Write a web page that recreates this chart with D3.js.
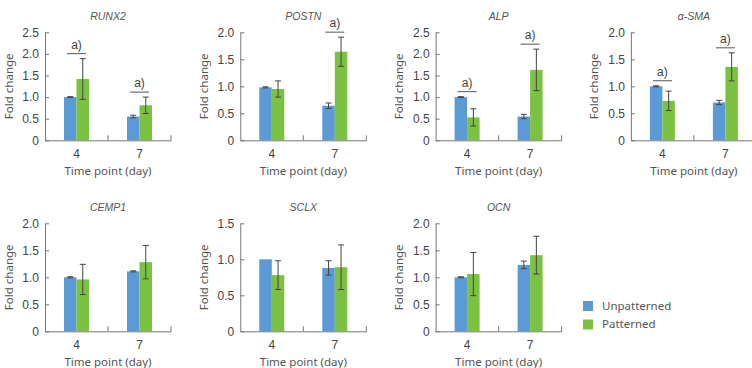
<!DOCTYPE html>
<html lang="en">
<head>
<meta charset="UTF-8">
<title>Fold change by time point</title>
<style>
  body { margin: 0; background: #fff; }
  svg { display: block; }
  .tick text { font-family: "Liberation Sans", Arial, sans-serif; font-size: 12px; fill: #444; }
  .label { font-family: "Noto Sans", sans-serif; font-size: 11.5px; fill: #555; }
  .gene { font-family: "Liberation Sans", Arial, sans-serif; font-size: 10.5px; font-style: italic; fill: #555; }
  .sig { font-family: "Liberation Sans", Arial, sans-serif; font-size: 12px; fill: #444; }
</style>
<script src="https://d3js.org/d3.v7.min.js"></script>
</head>
<body>
<div id="chart"></div>
<script>
const genes = ["RUNX2", "POSTN", "ALP", "\u03b1-SMA", "CEMP1", "SCLX", "OCN"];
const timePoints = ["4", "7"];
const yMax = [2.5, 2.0, 2.5, 2.0, 2.0, 1.5, 2.0];

// values per gene: [day 4, day 7]
const unpatterned    = [[1.0, 0.55], [0.98, 0.64], [1.0, 0.55], [1.0, 0.70], [1.0, 1.11], [1.0, 0.88], [1.0, 1.23]];
const unpatternedErr = [[0.01, 0.03], [0.01, 0.05], [0.01, 0.05], [0.01, 0.04], [0.01, 0.01], [0, 0.10], [0.01, 0.07]];
const patterned      = [[1.42, 0.81], [0.95, 1.64], [0.53, 1.63], [0.73, 1.36], [0.96, 1.28], [0.78, 0.89], [1.06, 1.41]];
const patternedErr   = [[0.47, 0.19], [0.15, 0.27], [0.20, 0.48], [0.18, 0.26], [0.28, 0.31], [0.20, 0.31], [0.40, 0.35]];
const significant    = [[true, true], [false, true], [true, true], [true, true], [false, false], [false, false], [false, false]];

const groups = ["Unpatterned", "Patterned"];
const values = [unpatterned, patterned];
const errors = [unpatternedErr, patternedErr];
const colors = d3.scaleOrdinal().domain(groups).range(["#5b9bd5", "#7cc242"]);

const width = 752, height = 368;
const plotW = 126, plotH = 108;
const axisColor = "#777";

const svg = d3.select("#chart").append("svg")
    .attr("width", width)
    .attr("height", height);

const x = d3.scaleBand().domain(timePoints).range([0, plotW]);
const xInner = d3.scaleBand().domain(groups).range([-12.5, 12.5]);

genes.forEach((gene, i) => {
    const col = i % 4, row = Math.floor(i / 4);
    const g = svg.append("g")
        .attr("transform", `translate(${45 + col * 195.3},${32.3 + row * 191})`);

    const y = d3.scaleLinear().domain([0, yMax[i]]).range([plotH, 0]);

    // bars + error bars
    timePoints.forEach((tp, j) => {
        const cx = x(tp) + x.bandwidth() / 2;
        groups.forEach((grp, k) => {
            const v = values[k][i][j], e = errors[k][i][j];
            const bx = cx + xInner(grp);
            g.append("rect")
                .attr("x", bx)
                .attr("y", y(v))
                .attr("width", xInner.bandwidth())
                .attr("height", plotH - y(v))
                .attr("fill", colors(grp));
            if (e > 0) {
                const mx = bx + xInner.bandwidth() / 2;
                g.append("line")
                    .attr("x1", mx).attr("x2", mx)
                    .attr("y1", y(v + e)).attr("y2", y(v - e))
                    .attr("stroke", "#444");
                [v + e, v - e].forEach(c => {
                    g.append("line")
                        .attr("x1", mx - 3).attr("x2", mx + 3)
                        .attr("y1", y(c)).attr("y2", y(c))
                        .attr("stroke", "#444");
                });
            }
        });

        if (significant[i][j]) {
            const top = d3.max(groups, (grp, k) => values[k][i][j] + errors[k][i][j]);
            const ly = y(top) - 5;
            g.append("line")
                .attr("x1", cx - 9.5).attr("x2", cx + 9.5)
                .attr("y1", ly).attr("y2", ly)
                .attr("stroke", "#555");
            g.append("text")
                .attr("class", "sig")
                .attr("x", cx)
                .attr("y", ly - 5)
                .attr("text-anchor", "middle")
                .text("a)");
        }
    });

    // y axis
    const yAxis = g.append("g")
        .call(d3.axisLeft(y)
            .tickValues(d3.range(0, yMax[i] + 0.001, 0.5))
            .tickSizeInner(-4)
            .tickSizeOuter(0)
            .tickPadding(6)
            .tickFormat(d => d === 0 ? "0" : d.toFixed(1)));

    // x axis
    const xAxis = g.append("g")
        .attr("transform", `translate(0,${plotH})`)
        .call(d3.axisBottom(x).tickSize(0).tickSizeOuter(0).tickPadding(9));

    [yAxis, xAxis].forEach(a => {
        a.select(".domain").attr("stroke", axisColor);
        a.selectAll(".tick line").attr("stroke", axisColor);
        a.selectAll(".tick text").attr("font-family", null).attr("font-size", null);
    });

    timePoints.forEach(tp => {
        const bx = x(tp) + x.bandwidth();
        g.append("line")
            .attr("x1", bx).attr("x2", bx)
            .attr("y1", plotH).attr("y2", plotH - 5)
            .attr("stroke", axisColor);
    });

    g.append("text")
        .attr("class", "gene")
        .attr("x", plotW / 2)
        .attr("y", -12)
        .attr("text-anchor", "middle")
        .text(gene);

    g.append("text")
        .attr("class", "label")
        .attr("x", plotW / 2)
        .attr("y", plotH + 34.5)
        .attr("text-anchor", "middle")
        .text("Time point (day)");

    g.append("text")
        .attr("class", "label")
        .attr("transform", `translate(-32.5,${plotH / 2}) rotate(-90)`)
        .attr("text-anchor", "middle")
        .text("Fold change");
});

// legend
const legend = svg.append("g").attr("transform", "translate(583,301)");
groups.forEach((grp, k) => {
    const row = legend.append("g").attr("transform", `translate(0,${k * 18.5})`);
    row.append("rect")
        .attr("width", 10).attr("height", 10)
        .attr("fill", colors(grp));
    row.append("text")
        .attr("class", "label")
        .attr("x", 19)
        .attr("y", 8.5)
        .text(grp);
});
</script>
</body>
</html>
